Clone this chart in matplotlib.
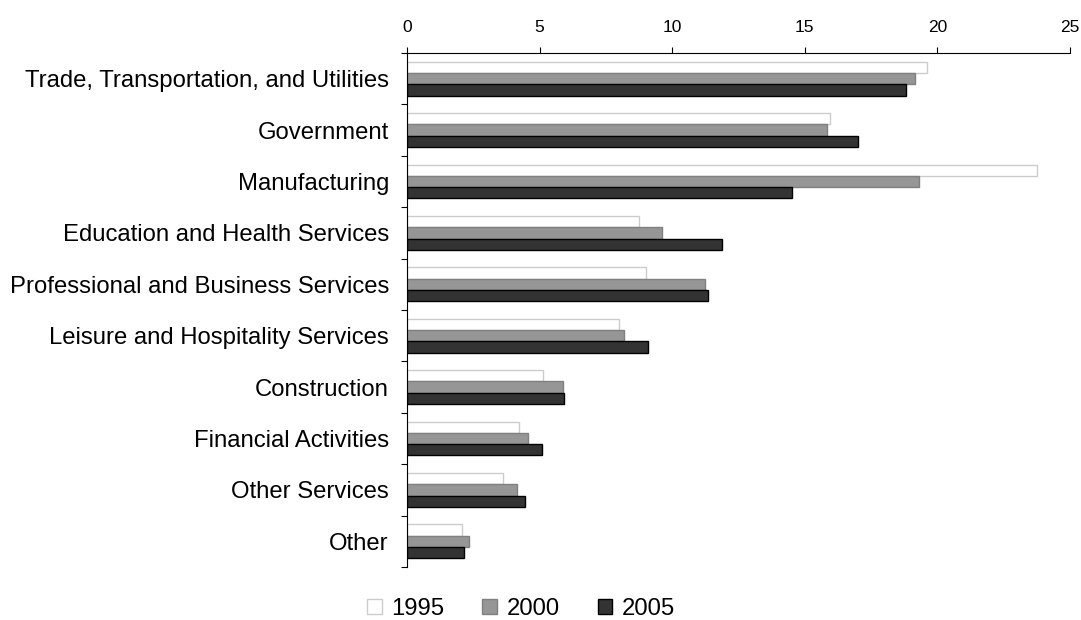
import matplotlib.pyplot as plt
import numpy as np

plt.rcParams['font.family'] = ['Liberation Sans', 'DejaVu Sans']

categories = ["Trade, Transportation, and Utilities", "Government", "Manufacturing",
              "Education and Health Services", "Professional and Business Services",
              "Leisure and Hospitality Services", "Construction", "Financial Activities",
              "Other Services", "Other"]
years = ["1995", "2000", "2005"]
v1995 = [19.6, 15.95, 23.75, 8.75, 9.03, 8.0, 5.13, 4.24, 3.63, 2.09]
v2000 = [19.15, 15.85, 19.3, 9.62, 11.25, 8.2, 5.87, 4.58, 4.14, 2.33]
v2005 = [18.8, 17.0, 14.5, 11.88, 11.35, 9.1, 5.92, 5.08, 4.44, 2.15]

fig = plt.figure(figsize=(10.81, 6.2), dpi=100)
ax = fig.add_axes([0.3765, 0.0855, 0.6133, 0.829])

y = np.arange(len(categories))
h = 0.22
ax.barh(y - h, v1995, h, color="white", edgecolor="#cccccc", linewidth=1.0, label=years[0])
ax.barh(y, v2000, h, color="#969696", edgecolor="#808080", linewidth=1.0, label=years[1])
ax.barh(y + h, v2005, h, color="#333333", edgecolor="#000000", linewidth=1.0, label=years[2])

ax.set_xlim(0, 25)
ax.set_ylim(len(categories) - 0.5, -0.5)
ax.xaxis.tick_top()
ax.set_xticks([0, 5, 10, 15, 20, 25])
ax.tick_params(axis="x", direction="out", length=4, labelsize=12.5, pad=9)

ax.set_yticks(np.arange(len(categories) + 1) - 0.5)
ax.set_yticklabels([])
ax.set_yticks(y, minor=True)
ax.set_yticklabels(categories, minor=True, fontsize=17.2)
ax.tick_params(axis="y", which="major", direction="out", length=4)
ax.tick_params(axis="y", which="minor", length=0, pad=13)

for s in ["right", "bottom"]:
    ax.spines[s].set_visible(False)

fig.legend(loc="lower center", bbox_to_anchor=(0.482, -0.035), ncol=3, frameon=False,
           fontsize=17.2, handlelength=0.6, handleheight=0.6, handletextpad=0.4,
           columnspacing=1.6)

fig.savefig("out.png", dpi=100)
